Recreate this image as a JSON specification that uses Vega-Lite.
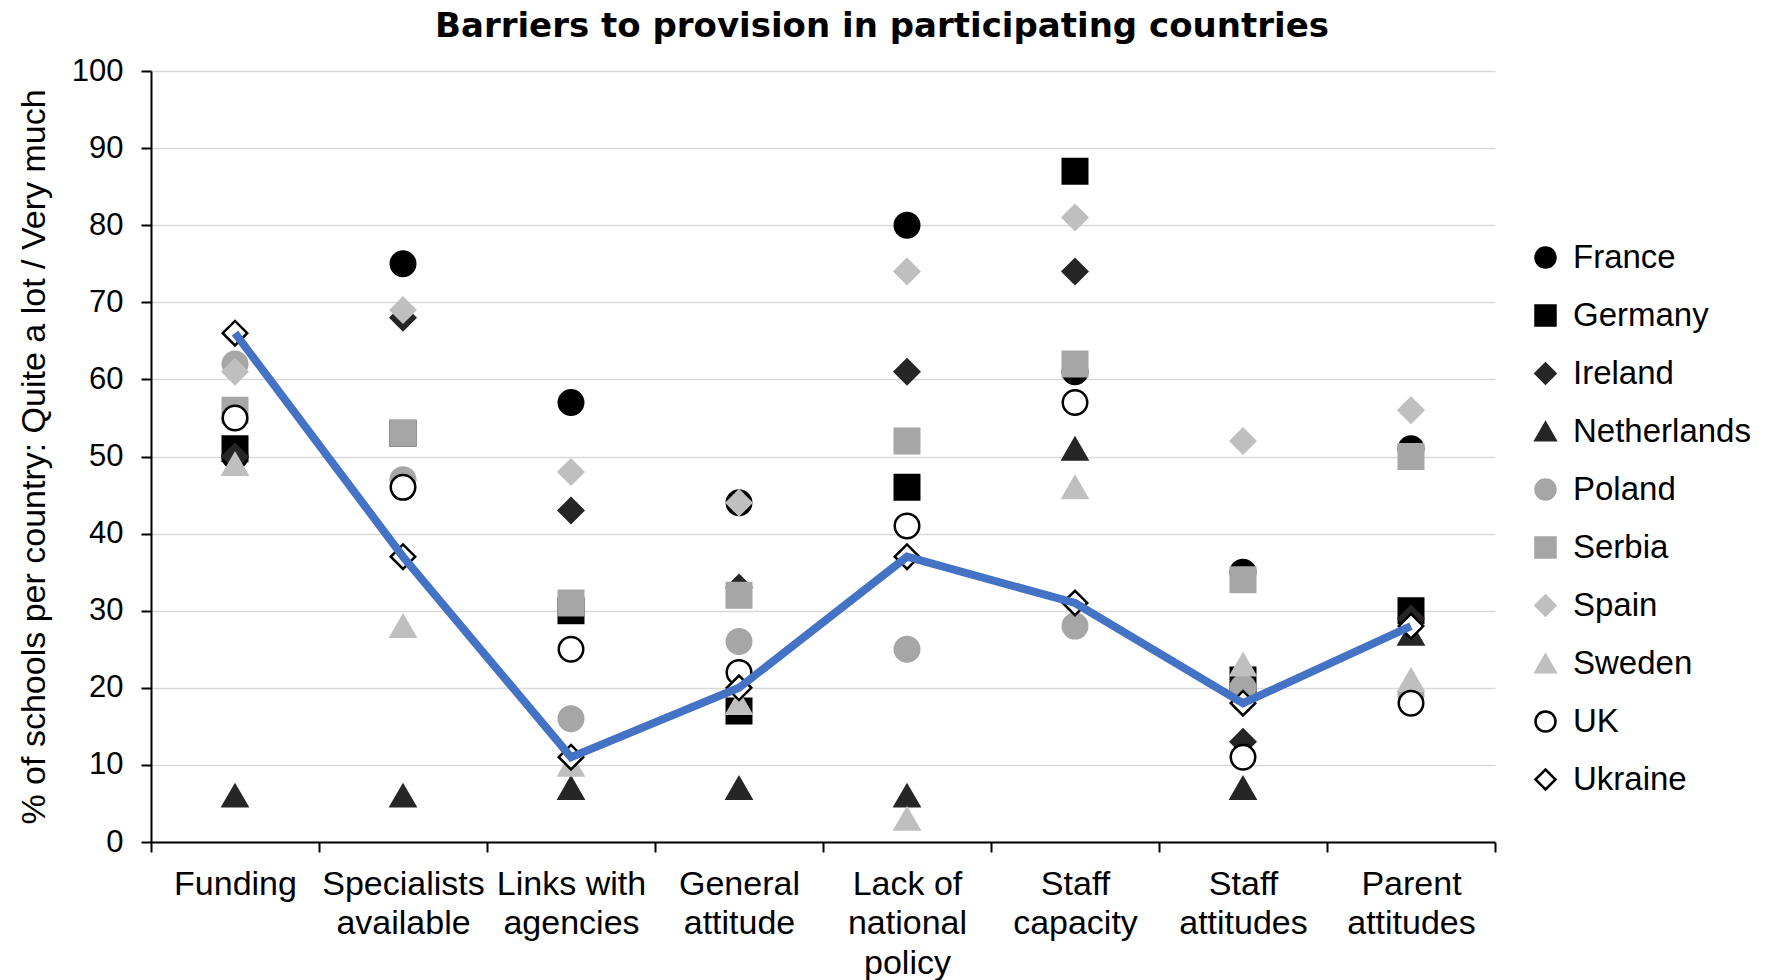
{
  "$schema": "https://vega.github.io/schema/vega-lite/v6.json",
  "width": 1344,
  "height": 771,
  "autosize": {"type": "none"},
  "padding": {"left": 151, "top": 71, "right": 270, "bottom": 138},
  "background": "white",
  "config": {
    "font": "Liberation Sans",
    "view": {"stroke": null}
  },
  "title": {
    "text": "Barriers to provision in participating countries",
    "fontSize": 34,
    "fontWeight": "bold",
    "font": "DejaVu Sans",
    "color": "#000000",
    "anchor": "middle",
    "dx": 59,
    "offset": 11
  },
  "data": {
    "values": [
      {"barrier": "Funding", "country": "France", "value": 50},
      {"barrier": "Funding", "country": "Germany", "value": 51},
      {"barrier": "Funding", "country": "Ireland", "value": 50},
      {"barrier": "Funding", "country": "Netherlands", "value": 6},
      {"barrier": "Funding", "country": "Poland", "value": 62},
      {"barrier": "Funding", "country": "Serbia", "value": 56},
      {"barrier": "Funding", "country": "Spain", "value": 61},
      {"barrier": "Funding", "country": "Sweden", "value": 49},
      {"barrier": "Funding", "country": "UK", "value": 55},
      {"barrier": "Funding", "country": "Ukraine", "value": 66},
      {"barrier": "Specialists available", "country": "France", "value": 75},
      {"barrier": "Specialists available", "country": "Germany", "value": 53},
      {"barrier": "Specialists available", "country": "Ireland", "value": 68},
      {"barrier": "Specialists available", "country": "Netherlands", "value": 6},
      {"barrier": "Specialists available", "country": "Poland", "value": 47},
      {"barrier": "Specialists available", "country": "Serbia", "value": 53},
      {"barrier": "Specialists available", "country": "Spain", "value": 69},
      {"barrier": "Specialists available", "country": "Sweden", "value": 28},
      {"barrier": "Specialists available", "country": "UK", "value": 46},
      {"barrier": "Specialists available", "country": "Ukraine", "value": 37},
      {"barrier": "Links with agencies", "country": "France", "value": 57},
      {"barrier": "Links with agencies", "country": "Germany", "value": 30},
      {"barrier": "Links with agencies", "country": "Ireland", "value": 43},
      {"barrier": "Links with agencies", "country": "Netherlands", "value": 7},
      {"barrier": "Links with agencies", "country": "Poland", "value": 16},
      {"barrier": "Links with agencies", "country": "Serbia", "value": 31},
      {"barrier": "Links with agencies", "country": "Spain", "value": 48},
      {"barrier": "Links with agencies", "country": "Sweden", "value": 10},
      {"barrier": "Links with agencies", "country": "UK", "value": 25},
      {"barrier": "Links with agencies", "country": "Ukraine", "value": 11},
      {"barrier": "General attitude", "country": "France", "value": 44},
      {"barrier": "General attitude", "country": "Germany", "value": 17},
      {"barrier": "General attitude", "country": "Ireland", "value": 33},
      {"barrier": "General attitude", "country": "Netherlands", "value": 7},
      {"barrier": "General attitude", "country": "Poland", "value": 26},
      {"barrier": "General attitude", "country": "Serbia", "value": 32},
      {"barrier": "General attitude", "country": "Spain", "value": 44},
      {"barrier": "General attitude", "country": "Sweden", "value": 18},
      {"barrier": "General attitude", "country": "UK", "value": 22},
      {"barrier": "General attitude", "country": "Ukraine", "value": 20},
      {"barrier": "Lack of national policy", "country": "France", "value": 80},
      {"barrier": "Lack of national policy", "country": "Germany", "value": 46},
      {"barrier": "Lack of national policy", "country": "Ireland", "value": 61},
      {"barrier": "Lack of national policy", "country": "Netherlands", "value": 6},
      {"barrier": "Lack of national policy", "country": "Poland", "value": 25},
      {"barrier": "Lack of national policy", "country": "Serbia", "value": 52},
      {"barrier": "Lack of national policy", "country": "Spain", "value": 74},
      {"barrier": "Lack of national policy", "country": "Sweden", "value": 3},
      {"barrier": "Lack of national policy", "country": "UK", "value": 41},
      {"barrier": "Lack of national policy", "country": "Ukraine", "value": 37},
      {"barrier": "Staff capacity", "country": "France", "value": 61},
      {"barrier": "Staff capacity", "country": "Germany", "value": 87},
      {"barrier": "Staff capacity", "country": "Ireland", "value": 74},
      {"barrier": "Staff capacity", "country": "Netherlands", "value": 51},
      {"barrier": "Staff capacity", "country": "Poland", "value": 28},
      {"barrier": "Staff capacity", "country": "Serbia", "value": 62},
      {"barrier": "Staff capacity", "country": "Spain", "value": 81},
      {"barrier": "Staff capacity", "country": "Sweden", "value": 46},
      {"barrier": "Staff capacity", "country": "UK", "value": 57},
      {"barrier": "Staff capacity", "country": "Ukraine", "value": 31},
      {"barrier": "Staff attitudes", "country": "France", "value": 35},
      {"barrier": "Staff attitudes", "country": "Germany", "value": 21},
      {"barrier": "Staff attitudes", "country": "Ireland", "value": 13},
      {"barrier": "Staff attitudes", "country": "Netherlands", "value": 7},
      {"barrier": "Staff attitudes", "country": "Poland", "value": 20},
      {"barrier": "Staff attitudes", "country": "Serbia", "value": 34},
      {"barrier": "Staff attitudes", "country": "Spain", "value": 52},
      {"barrier": "Staff attitudes", "country": "Sweden", "value": 23},
      {"barrier": "Staff attitudes", "country": "UK", "value": 11},
      {"barrier": "Staff attitudes", "country": "Ukraine", "value": 18},
      {"barrier": "Parent attitudes", "country": "France", "value": 51},
      {"barrier": "Parent attitudes", "country": "Germany", "value": 30},
      {"barrier": "Parent attitudes", "country": "Ireland", "value": 29},
      {"barrier": "Parent attitudes", "country": "Netherlands", "value": 27},
      {"barrier": "Parent attitudes", "country": "Poland", "value": 19},
      {"barrier": "Parent attitudes", "country": "Serbia", "value": 50},
      {"barrier": "Parent attitudes", "country": "Spain", "value": 56},
      {"barrier": "Parent attitudes", "country": "Sweden", "value": 21},
      {"barrier": "Parent attitudes", "country": "UK", "value": 18},
      {"barrier": "Parent attitudes", "country": "Ukraine", "value": 28}
    ]
  },
  "encoding": {
    "x": {
      "field": "barrier",
      "type": "nominal",
      "sort": null,
      "scale": {"paddingInner": 0, "paddingOuter": 0},
      "axis": {
        "title": null,
        "labelAngle": 0,
        "tickBand": "extent",
        "domainColor": "#000000",
        "domainWidth": 2,
        "tickColor": "#000000",
        "tickWidth": 2,
        "tickSize": 10,
        "labelPadding": 15,
        "labelFontSize": 34,
        "labelColor": "#000000",
        "labelLineHeight": 39.5,
        "labelBaseline": "top",
        "labelExpr": "datum.value == 'Specialists available' ? ['Specialists','available'] : datum.value == 'Links with agencies' ? ['Links with','agencies'] : datum.value == 'General attitude' ? ['General','attitude'] : datum.value == 'Lack of national policy' ? ['Lack of','national','policy'] : datum.value == 'Staff capacity' ? ['Staff','capacity'] : datum.value == 'Staff attitudes' ? ['Staff','attitudes'] : datum.value == 'Parent attitudes' ? ['Parent','attitudes'] : datum.value"
      }
    },
    "y": {
      "field": "value",
      "type": "quantitative",
      "scale": {"domain": [0, 100], "nice": false},
      "axis": {
        "title": "% of schools per country: Quite a lot / Very much",
        "titleFontSize": 34,
        "titleFontWeight": "normal",
        "titleColor": "#000000",
        "titlePadding": 20,
        "values": [0, 10, 20, 30, 40, 50, 60, 70, 80, 90, 100],
        "labelFontSize": 31,
        "labelColor": "#000000",
        "labelPadding": 18,
        "domainColor": "#000000",
        "domainWidth": 2,
        "tickColor": "#000000",
        "tickWidth": 2,
        "tickSize": 10,
        "grid": true,
        "gridColor": "#d9d9d9",
        "gridWidth": 1.5
      }
    }
  },
  "layer": [
    {
      "mark": {"type": "point", "filled": true, "size": 600, "strokeWidth": 2.5, "opacity": 1},
      "encoding": {
        "shape": {
          "field": "country",
          "type": "nominal",
          "scale": {
            "domain": ["France", "Germany", "Ireland", "Netherlands", "Poland", "Serbia", "Spain", "Sweden", "UK", "Ukraine"],
            "range": ["circle", "square", "diamond", "triangle-up", "circle", "square", "diamond", "triangle-up", "circle", "diamond"]
          },
          "legend": {
            "title": null,
            "orient": "none",
            "legendX": 1378,
            "legendY": 170,
            "labelFontSize": 33,
            "labelColor": "#000000",
            "labelOffset": 11,
            "symbolSize": 400,
            "symbolStrokeWidth": 2.5,
            "rowPadding": 24,
            "labelLimit": 400
          }
        },
        "fill": {
          "field": "country",
          "type": "nominal",
          "scale": {
            "domain": ["France", "Germany", "Ireland", "Netherlands", "Poland", "Serbia", "Spain", "Sweden", "UK", "Ukraine"],
            "range": ["#000000", "#000000", "#262626", "#262626", "#a6a6a6", "#a6a6a6", "#bfbfbf", "#bfbfbf", "#ffffff", "#ffffff"]
          }
        },
        "stroke": {
          "field": "country",
          "type": "nominal",
          "scale": {
            "domain": ["France", "Germany", "Ireland", "Netherlands", "Poland", "Serbia", "Spain", "Sweden", "UK", "Ukraine"],
            "range": ["#000000", "#000000", "#262626", "#262626", "#a6a6a6", "#a6a6a6", "#bfbfbf", "#bfbfbf", "#000000", "#000000"]
          }
        }
      }
    },
    {
      "transform": [{"filter": "datum.country == 'Ukraine'"}],
      "mark": {"type": "line", "color": "#4472c4", "strokeWidth": 8},
      "encoding": {}
    }
  ]
}
